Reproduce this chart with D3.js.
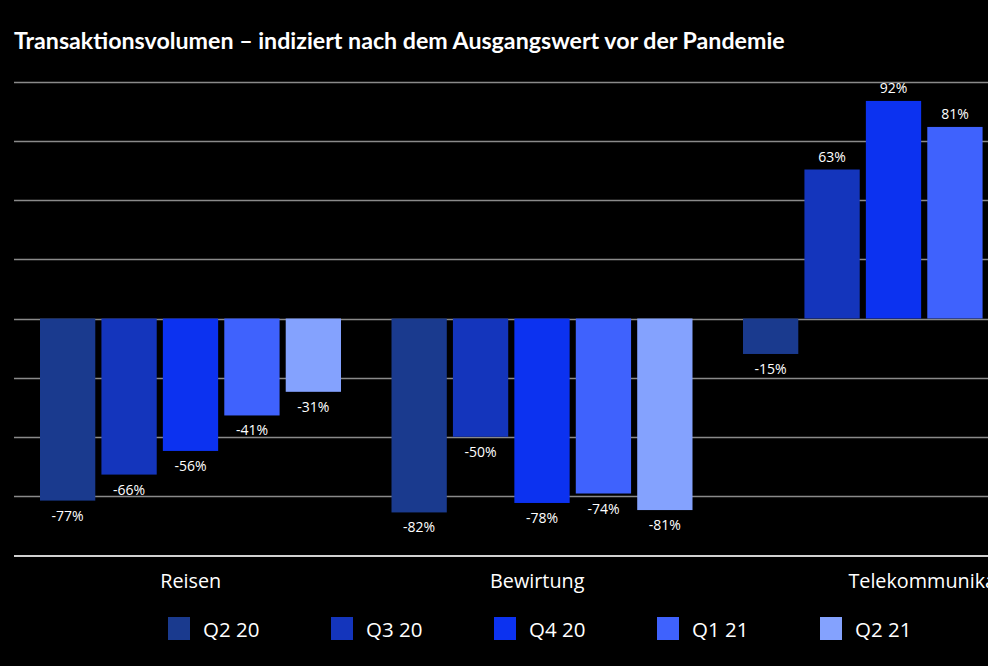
<!DOCTYPE html>
<html>
<head>
<meta charset="utf-8">
<script src="https://cdn.jsdelivr.net/npm/d3@7"></script>
<style>
  html, body { margin: 0; padding: 0; background: #000; overflow: hidden; width: 988px; height: 666px; }
  svg { display: block; }
</style>
</head>
<body>
<div id="chart"></div>
<script>
const title = "Transaktionsvolumen – indiziert nach dem Ausgangswert vor der Pandemie";
const categories = ["Reisen", "Bewirtung", "Telekommunikation"];
const seriesNames = ["Q2 20", "Q3 20", "Q4 20", "Q1 21", "Q2 21"];
const seriesColors = ["#1a3a8e", "#1435bc", "#0c32f0", "#3f62fd", "#84a2fe"];
// values per series, in category order (Telekommunikation Q2 21 lies outside the visible frame)
const q2_20 = [-77, -82, -15];
const q3_20 = [-66, -50, 63];
const q4_20 = [-56, -78, 92];
const q1_21 = [-41, -74, 81];
const q2_21 = [-31, -81, null];
const seriesValues = [q2_20, q3_20, q4_20, q1_21, q2_21];
const gridTicks = [-100, -75, -50, -25, 0, 25, 50, 75, 100];

const W = 1100, H = 666;
const svg = d3.select("#chart").append("svg").attr("width", W).attr("height", H);

// title
svg.append("text")
  .attr("x", 14).attr("y", 49)
  .attr("fill", "#fff")
  .attr("font-family", "Lato, 'Open Sans', sans-serif")
  .attr("font-weight", 700)
  .attr("font-size", 23.2)
  .text(title);

const y = d3.scaleLinear().domain([-100, 100]).range([555, 82]);
const x0 = d3.scaleBand().domain(categories).range([14.5, 14.5 + 3 * 351.5]).padding(0);
const x1 = d3.scaleBand().domain(seriesNames).range([25.5, 326.5]).paddingInner(0.1);

// gridlines
svg.append("g").selectAll("line")
  .data(gridTicks.filter(t => t !== -100))
  .join("line")
  .attr("x1", 14).attr("x2", W)
  .attr("y1", d => Math.round(y(d)) + 0.5).attr("y2", d => Math.round(y(d)) + 0.5)
  .attr("stroke", "#8a8a8a").attr("stroke-width", 1.5);

// bars
const rows = [];
categories.forEach((c, ci) => {
  seriesNames.forEach((s, si) => {
    const v = seriesValues[si][ci];
    if (v !== null && v !== undefined) rows.push({ c, s, si, v });
  });
});

const g = svg.append("g");
g.selectAll("rect").data(rows).join("rect")
  .attr("x", d => x0(d.c) + x1(d.s))
  .attr("width", x1.bandwidth())
  .attr("y", d => y(Math.max(0, d.v)))
  .attr("height", d => Math.abs(y(d.v) - y(0)))
  .attr("fill", d => seriesColors[d.si]);

g.selectAll("text.val").data(rows).join("text")
  .attr("class", "val")
  .attr("x", d => x0(d.c) + x1(d.s) + x1.bandwidth() / 2)
  .attr("y", d => d.v < 0 ? y(d.v) + 20 : y(d.v) - 8)
  .attr("text-anchor", "middle")
  .attr("fill", "#fff")
  .attr("font-family", "'Open Sans', sans-serif")
  .attr("font-size", 14)
  .text(d => String(d.v) + "%");

// baseline axis
svg.append("line")
  .attr("x1", 14).attr("x2", W)
  .attr("y1", 556).attr("y2", 556)
  .attr("stroke", "#d0d0d0").attr("stroke-width", 2);

// category labels
const labelShift = [0.5, -4.5, 47];
svg.append("g").selectAll("text").data(categories).join("text")
  .attr("x", (d, i) => x0(d) + x0.bandwidth() / 2 + labelShift[i])
  .attr("y", 588)
  .attr("text-anchor", "middle")
  .attr("fill", "#fff")
  .attr("font-family", "'Open Sans', sans-serif")
  .attr("font-size", 19.8)
  .text(d => d);

// legend
const legend = svg.append("g");
const lx = d3.scaleBand().domain(seriesNames).range([168, 168 + 5 * 163]);
const li = legend.selectAll("g").data(seriesNames).join("g")
  .attr("transform", d => `translate(${lx(d)},617)`);
li.append("rect").attr("width", 22).attr("height", 23)
  .attr("fill", (d, i) => seriesColors[i]);
li.append("text").attr("x", 35).attr("y", 20)
  .attr("fill", "#fff")
  .attr("font-family", "'Open Sans', sans-serif")
  .attr("font-size", 20.5)
  .text(d => d);
</script>
</body>
</html>
